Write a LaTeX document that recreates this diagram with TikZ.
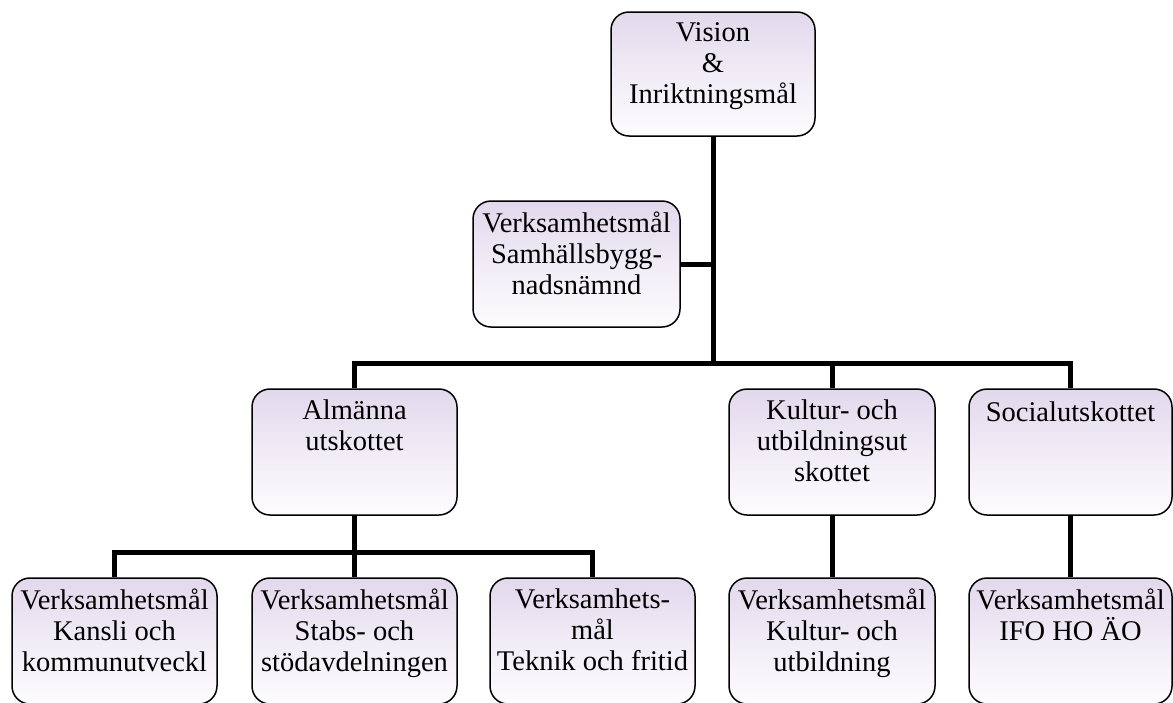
\documentclass[tikz,border=0pt]{standalone}
\usepackage{fontspec}
\setmainfont{Liberation Serif}
\definecolor{boxtop}{RGB}{226,216,236}
\definecolor{boxbot}{RGB}{253,252,254}
\begin{document}
\begin{tikzpicture}[x=1pt,y=-1pt,
  box/.style={draw=black, line width=1.5pt, rounded corners=18pt,
    top color=boxtop, bottom color=boxbot, middle color={boxtop!45!boxbot},
    inner sep=0pt, minimum width=205pt, minimum height=126pt},
  txt/.style={anchor=north, yshift=-11.3pt, inner sep=0pt, align=center,
    font=\fontsize{28.5}{31}\selectfont, execute at begin node=\strut},
  conn/.style={draw=black, line width=5pt, line join=miter, line cap=butt}]
\useasboundingbox (0,0) rectangle (1173,702);
% boxes
\node[box, minimum width=204pt, minimum height=124pt] (vis) at (713,74) {};
\node[box, minimum width=207pt] (sam) at (576.5,264) {};
\node[box] (alm) at (354.5,452) {};
\node[box, minimum width=206pt] (kul) at (832,452) {};
\node[box, minimum width=203pt] (soc) at (1070.5,452) {};
\node[box] (b1) at (114.5,641) {};
\node[box] (b2) at (354.5,641) {};
\node[box] (b3) at (592.5,641) {};
\node[box, minimum width=206pt] (b4) at (832,641) {};
\node[box, minimum width=203pt] (b5) at (1070.5,641) {};
% texts
\node[txt] (vis-t) at (vis.north) {Vision\\\&\\Inriktningsmål};
\node[txt] (sam-t) at (sam.north) {Verksamhetsmål\\Samhällsbygg-\\nadsnämnd};
\node[txt] (alm-t) at (alm.north) {Almänna\\utskottet};
\node[txt] (kul-t) at (kul.north) {Kultur- och\\utbildningsut\\skottet};
\node[txt] (soc-t) at (soc.north) {Socialutskottet};
\node[txt] (b1-t) at (b1.north) {Verksamhetsmål\\Kansli och\\kommunutveckl};
\node[txt] (b2-t) at (b2.north) {Verksamhetsmål\\Stabs- och\\stödavdelningen};
\node[txt] (b3-t) at (b3.north) {Verksamhets-\\mål\\Teknik och fritid};
\node[txt] (b4-t) at (b4.north) {Verksamhetsmål\\Kultur- och\\utbildning};
\node[txt] (b5-t) at (b5.north) {Verksamhetsmål\\IFO HO ÄO};
% connectors
\coordinate (j1) at (713,363);
\coordinate (j2) at (354.5,552);
\draw[conn] (vis.south) -- (j1);
\draw[conn] (sam.east) -- (sam.east -| vis.south);
\draw[conn] (alm.north) -- (alm.north |- j1) -- (soc.north |- j1) -- (soc.north);
\draw[conn] (kul.north) -- (kul.north |- j1);
\draw[conn] (alm.south) -- (b2.north);
\draw[conn] (b1.north) -- (b1.north |- j2) -- (b3.north |- j2) -- (b3.north);
\draw[conn] (kul.south) -- (b4.north);
\draw[conn] (soc.south) -- (b5.north);
\end{tikzpicture}
\end{document}
